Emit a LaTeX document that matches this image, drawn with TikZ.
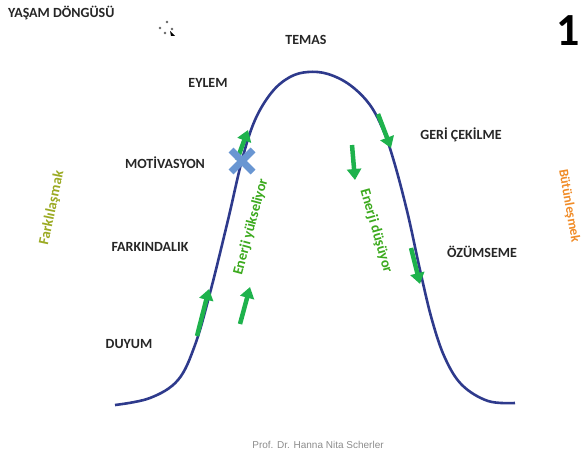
\documentclass[tikz,border=0pt]{standalone}
\usepackage{fontspec}
\setmainfont{Carlito}
\newfontfamily\profont{Liberation Sans}
\usetikzlibrary{arrows.meta}
\definecolor{curveblue}{RGB}{46,58,140}
\definecolor{arrgreen}{RGB}{30,178,76}
\definecolor{txtgreen}{RGB}{60,170,30}
\definecolor{olive}{RGB}{155,170,35}
\definecolor{orng}{RGB}{240,140,40}
\definecolor{xblue}{RGB}{105,150,210}
\tikzset{
  lbl/.style={font=\bfseries\fontsize{14}{16}\selectfont, text=black!85, inner sep=0pt},
  curve/.style={curveblue, line width=2.6pt},
  garrow/.style={arrgreen, line width=4.5pt, -{Triangle[width=14pt,length=11pt]}},
  rottext/.style={font=\bfseries\fontsize{14.5}{16}\selectfont, inner sep=0pt},
}
\begin{document}
\begin{tikzpicture}[x=1pt,y=-1pt]
\useasboundingbox (0,0) rectangle (585,457);
% curve
\draw[curve] plot[smooth, tension=0.6] coordinates {(115,405) (150,398) (178,380) (195,345) (210,293) (228,220) (242,160) (255,120) (272,92) (290,77) (308,72) (328,74) (350,85) (370,105) (384,132) (395,165) (408,215) (420,270) (432,320) (445,358) (462,385) (488,401) (515,403)};
% arrows on curve
\coordinate (a1s) at (197,336); \coordinate (a1e) at (209,289);
\coordinate (a2s) at (237,160); \coordinate (a2e) at (248,130);
\coordinate (a3s) at (378,114); \coordinate (a3e) at (391,148);
\coordinate (a4s) at (411,248); \coordinate (a4e) at (420,284);
\draw[garrow] (a1s) -- (a1e);
\draw[garrow] (a2s) -- (a2e);
\draw[garrow] (a3s) -- (a3e);
\draw[garrow] (a4s) -- (a4e);
% free arrows
\coordinate (f1s) at (240,324); \coordinate (f1e) at (250,287);
\coordinate (f2s) at (352,145); \coordinate (f2e) at (355,180);
\draw[garrow] (f1s) -- (f1e);
\draw[garrow] (f2s) -- (f2e);
% X mark
\node (xm) at (242,161) {};
\draw[xblue, line width=7pt] ([shift={(-11,-11)}]xm.center) -- ([shift={(11,11)}]xm.center);
\draw[xblue, line width=7pt] ([shift={(-11,11)}]xm.center) -- ([shift={(11,-11)}]xm.center);
% labels
\node[lbl, anchor=west] (title) at (8,13) {YAŞAM DÖNGÜSÜ};
\node[font=\bfseries\fontsize{46}{46}\selectfont, inner sep=0pt, text=black] (num) at (568,31) {1};
\node[lbl] (temas) at (306,40) {TEMAS};
\node[lbl] (eylem) at (208,83) {EYLEM};
\node[lbl] (motiv) at (165,163) {MOTİVASYON};
\node[lbl] (fark) at (150,247) {FARKINDALIK};
\node[lbl] (duyum) at (129,344) {DUYUM};
\node[lbl] (geri) at (461,135) {GERİ ÇEKİLME};
\node[lbl] (ozum) at (482,252) {ÖZÜMSEME};
\node[rottext, text=olive, rotate=78] (fl) at (52,208) {Farklılaşmak};
\node[rottext, text=orng, rotate=-80, font=\bfseries\fontsize{13.5}{15}\selectfont] (bt) at (569,206) {Bütünleşmek};
\node[rottext, text=txtgreen, rotate=75] (ey) at (251,227) {Enerji yükseliyor};
\node[rottext, text=txtgreen, rotate=-74] (ed) at (376,231) {Enerji düşüyor};
\node[font=\profont\fontsize{10}{12}\selectfont, text=black!45, inner sep=0pt] (prof) at (318,445) {Prof. Dr. Hanna Nita Scherler};
% cursor artifact
\fill[black!60] (160,28) circle (1.3pt);
\fill[black!60] (167,22) circle (1.3pt);
\fill[black!60] (172,29) circle (1.3pt);
\fill[black!60] (165,33) circle (1.3pt);
\fill[black] (170,31) -- (175,36) -- (171,36) -- cycle;
\end{tikzpicture}
\end{document}
